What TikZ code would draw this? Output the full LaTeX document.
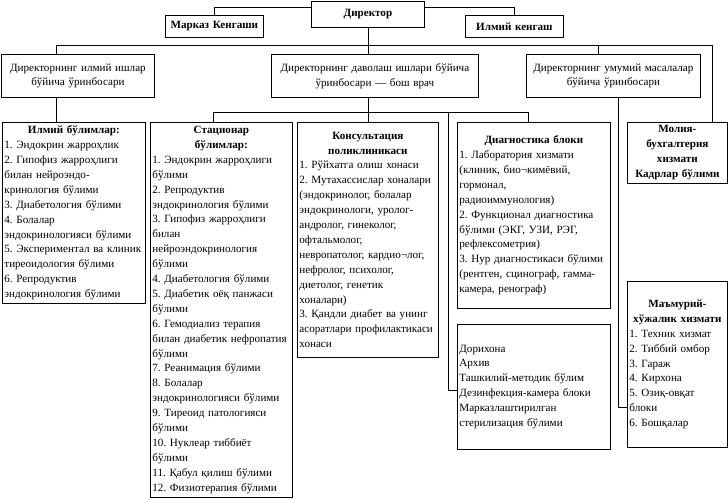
\documentclass[tikz,border=0pt]{standalone}
\usepackage{fontspec}
\setmainfont{Liberation Serif}
\frenchspacing
\newcommand{\boxfont}{\fontsize{11.1}{14.9}\selectfont}
\newcommand{\ttl}[1]{\makebox[\linewidth][c]{\bfseries #1}}
\tikzset{
  box/.style={draw, line width=0.8pt, inner xsep=2pt, inner ysep=0pt,
    anchor=north west, align=left, font=\boxfont},
  cbox/.style={box, align=center},
}
\begin{document}
\begin{tikzpicture}[x=1pt, y=-1pt, line width=0.8pt]
    \useasboundingbox (0,0) rectangle (728,499);
    % top row
    \node[cbox, text width=109pt, minimum height=26pt, font=\boxfont\bfseries] (dir) at (311,1) {Директор};
    \node[cbox, text width=94pt, minimum height=22pt, font=\boxfont\bfseries] (markaz) at (165,15) {Марказ Кенгаши};
    \node[cbox, text width=94pt, minimum height=22pt, font=\boxfont\bfseries] (ilmiyk) at (465,15) {Илмий кенгаш};
    % deputies
    \node[cbox, text width=149pt, minimum height=43pt] (dep1) at (1,54)
        {Директорнинг илмий ишлар\\бўйича ўринбосари};
    \node[cbox, text width=203pt, minimum height=43pt] (dep2) at (271,54)
        {Директорнинг даволаш ишлари бўйича\\ўринбосари — бош врач};
    \node[cbox, text width=170pt, minimum height=43pt] (dep3) at (526,54)
        {Директорнинг умумий масалалар\\бўйича ўринбосари};
    % departments
    \node[box, text width=139pt, minimum height=181pt] (ilmiy) at (2,122)
        {\ttl{Илмий бўлимлар:}\\
         1. Эндокрин жарроҳлик\\
         2. Гипофиз жарроҳлиги\\
         билан нейроэндо-\\
         кринология бўлими\\
         3. Диабетология бўлими\\
         4. Болалар\\
         эндокринологияси бўлими\\
         5. Экспериментал ва клиник\\
         тиреоидология бўлими\\
         6. Репродуктив\\
         эндокринология бўлими};
    \node[box, text width=138pt, minimum height=375pt] (stats) at (150,122)
        {\ttl{Стационар}\\
         \ttl{бўлимлар:}\\
         1. Эндокрин жарроҳлиги\\
         бўлими\\
         2. Репродуктив\\
         эндокринология бўлими\\
         3. Гипофиз жарроҳлиги\\
         билан\\
         нейроэндокринология\\
         бўлими\\
         4. Диабетология бўлими\\
         5. Диабетик оёқ панжаси\\
         бўлими\\
         6. Гемодиализ терапия\\
         билан диабетик нефропатия\\
         бўлими\\
         7. Реанимация бўлими\\
         8. Болалар\\
         эндокринологияси бўлими\\
         9. Тиреоид патологияси\\
         бўлими\\
         10. Нуклеар тиббиёт\\
         бўлими\\
         11. Қабул қилиш бўлими\\
         12. Физиотерапия бўлими};
    \node[box, text width=137pt, minimum height=235pt] (kons) at (297,122)
        {\ttl{Консультация}\\
         \ttl{поликлиникаси}\\
         1. Рўйхатга олиш хонаси\\
         2. Мутахассислар хоналари\\
         (эндокринолог, болалар\\
         эндокринологи, уролог-\\
         андролог, гинеколог,\\
         офтальмолог,\\
         невропатолог, кардио¬лог,\\
         нефролог, психолог,\\
         диетолог, генетик\\
         хоналари)\\
         3. Қандли диабет ва унинг\\
         асоратлари профилактикаси\\
         хонаси};
    \node[box, text width=149pt, minimum height=186pt] (diag) at (457,122)
        {\ttl{Диагностика блоки}\\
         1. Лаборатория хизмати\\
         (клиник, био¬кимёвий,\\
         гормонал,\\
         радиоиммунология)\\
         2. Функционал диагностика\\
         бўлими (ЭКГ, УЗИ, РЭГ,\\
         рефлексометрия)\\
         3. Нур диагностикаси бўлими\\
         (рентген, сцинограф, гамма-\\
         камера, ренограф)};
    \node[box, text width=149pt, minimum height=125pt] (dori) at (457,324)
        {Дорихона\\
         Архив\\
         Ташкилий-методик бўлим\\
         Дезинфекция-камера блоки\\
         Марказлаштирилган\\
         стерилизация бўлими};
    \node[cbox, text width=96pt, minimum height=61pt, font=\boxfont\bfseries] (moliya) at (627,122)
        {Молия-\\бухгалтерия\\хизмати\\Кадрлар бўлими};
    \node[box, text width=96pt, minimum height=166pt] (mamur) at (627,281)
        {\ttl{Маъмурий-}\\
         \ttl{хўжалик хизмати}\\
         1. Техник хизмат\\
         2. Тиббий омбор\\
         3. Гараж\\
         4. Кирхона\\
         5. Озиқ-овқат\\
         блоки\\
         6. Бошқалар};
    % connectors
    \coordinate (busL) at (56,45);
    \coordinate (busR) at (712,45);
    \coordinate (jL) at (213,112);
    \coordinate (jR) at (528,112);
    \coordinate (jD) at (448,112);
    \draw (markaz.north) |- ([yshift=-6pt]dir.north west);
    \draw ([yshift=-6pt]dir.north east) -| (ilmiyk.north);
    \draw (dir.south) -- (dir.south |- dep2.north);
    \draw (busL |- dep1.north) -- (busL) -- (busR) -- (busR |- moliya.north);
    \draw ([xshift=-15pt]dep3.north) -- ++(0,-9);
    \draw (busL |- dep1.south) -- (busL |- ilmiy.north);
    \draw (kons.north |- dep2.south) -- (kons.north);
    \draw (jL |- stats.north) -- (jL) -- (jR) -- (jR |- diag.north);
    \draw (jD) |- ([yshift=-3.5pt]dori.west);
    \draw ([xshift=5pt]dep3.south) |- ([yshift=-43pt]mamur.west);
\end{tikzpicture}
\end{document}
